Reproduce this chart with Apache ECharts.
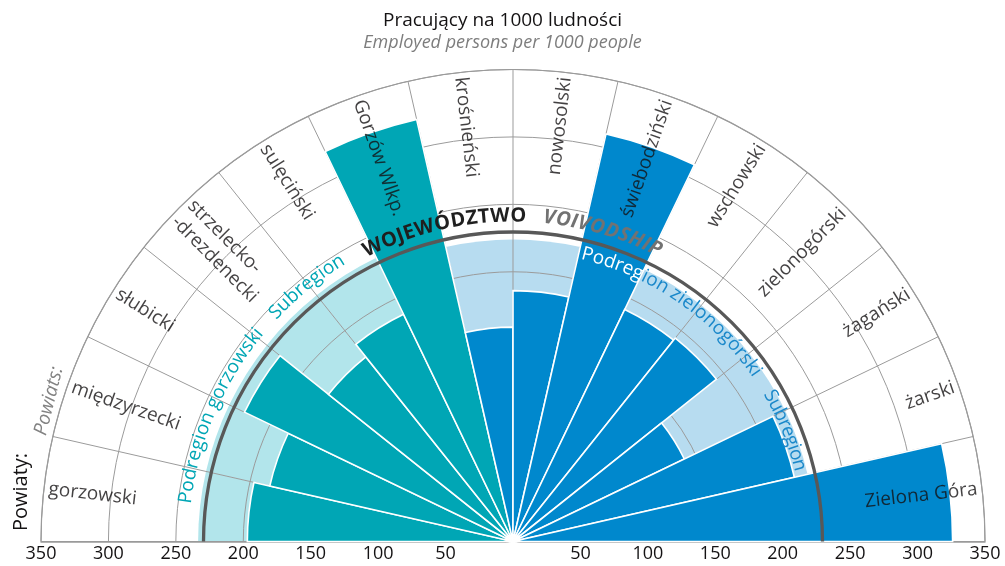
<!DOCTYPE html>
<html><head><meta charset="utf-8">
<script src="https://cdn.jsdelivr.net/npm/echarts@6/dist/echarts.min.js"></script>
<style>html,body{margin:0;padding:0;background:#fff}#c{width:1005px;height:566px}</style>
</head><body><div id="c"></div>
<script>
// ---- data ----
const categories = ['gorzowski','międzyrzecki','słubicki','strzelecko-\n-drezdenecki','sulęciński','Gorzów Wlkp.',
  'krośnieński','nowosolski','świebodziński','wschowski','zielonogórski','żagański','żarski','Zielona Góra'];
const subregionOf = ['gorzowski','gorzowski','gorzowski','gorzowski','gorzowski','gorzowski',
  'zielonogorski','zielonogorski','zielonogorski','zielonogorski','zielonogorski','zielonogorski','zielonogorski','zielonogorski'];
const employed = [197, 185, 221, 175, 187, 321, 159, 186, 310, 191, 193, 141, 214, 326];
const subregionNames = ['gorzowski', 'zielonogorski'];
const subregionValues = [233.5, 224];
const voivodshipValue = 229.5;
const radiusMin = 0, radiusMax = 350, radiusInterval = 50;

// ---- styles ----
const FONT = '"Open Sans", "Noto Sans", sans-serif';
const darkColor = {gorzowski: '#00A6B5', zielonogorski: '#0088CD'};
const lightColor = {gorzowski: '#B2E5EB', zielonogorski: '#B7DCF0'};
const textColor = {gorzowski: '#00A6B5', zielonogorski: '#1A88CA'};
const INK = '#141213';
const CX = 513, CY = 541.5, R = 472;
const N = categories.length;
const sectorDeg = 180 / N;

const subVal = name => subregionValues[subregionNames.indexOf(name)];

const arcTexts = [
  {text: 'Podregion gorzowski', start: 173.4, end: 140.2, r: 244.5, size: 19, weight: 'normal', style: 'normal', color: () => textColor.gorzowski},
  {text: 'Subregion', start: 136.9, end: 121.0, r: 244.5, size: 19, weight: 'normal', style: 'normal', color: () => textColor.gorzowski},
  {text: 'WOJEWÓDZTWO', start: 117.3, end: 87.6, r: 241.5, size: 20, weight: 'bold', style: 'normal', color: () => '#1f1f1f'},
  {text: 'VOIVODSHIP', start: 84.7, end: 63.0, r: 241.5, size: 20, weight: 'bold', style: 'italic', color: () => '#727272'},
  {text: 'Podregion zielonogórski', start: 76.6, end: 34.3, r: 219.5, size: 19, weight: 'normal', style: 'normal', color: null},
  {text: 'Subregion', start: 30.4, end: 13.9, r: 219.5, size: 19, weight: 'normal', style: 'normal', color: null}
];

const measureCtx = document.createElement('canvas').getContext('2d');

function renderOverlay(params, api) {
  const cs = params.coordSys;
  const cx = cs.cx, cy = cs.cy;
  const rpx = v => { const p = api.coord([v, 0]); return Math.hypot(p[0] - cx, p[1] - cy); };
  const children = [];
  children.push({
    type: 'arc',
    shape: {cx: cx, cy: cy, r: rpx(voivodshipValue), startAngle: Math.PI, endAngle: 2 * Math.PI, clockwise: true},
    style: {stroke: '#585858', lineWidth: 3.3, fill: null}
  });
  arcTexts.forEach(t => {
    const fontStr = t.style + ' ' + t.weight + ' ' + t.size + 'px ' + FONT;
    measureCtx.font = fontStr;
    const chars = Array.from(t.text);
    const widths = chars.map(ch => measureCtx.measureText(ch).width);
    const total = widths.reduce((a, b) => a + b, 0);
    const Rp = rpx(t.r);
    let acc = 0;
    chars.forEach((ch, k) => {
      const mid = acc + widths[k] / 2; acc += widths[k];
      const phi = t.start - (t.start - t.end) * mid / total;
      const rad = phi * Math.PI / 180;
      let fill;
      if (t.color) fill = t.color(phi);
      else {
        const i = Math.min(N - 1, Math.max(0, Math.floor((180 - phi) / sectorDeg)));
        fill = employed[i] > t.r + 4 ? '#ffffff' : textColor[subregionOf[i]];
      }
      children.push({
        type: 'text',
        x: cx + Rp * Math.cos(rad), y: cy - Rp * Math.sin(rad),
        rotation: (phi - 90) * Math.PI / 180,
        style: {text: ch, fill: fill, fontSize: t.size, fontWeight: t.weight, fontStyle: t.style,
                fontFamily: FONT, align: 'center', verticalAlign: 'middle'}
      });
    });
  });
  return {type: 'group', children: children};
}

const labelRadius = 346.5;
const labelData = categories.map((name, i) => {
  const theta = 180 - (i + 0.5) * sectorDeg;
  const left = theta > 90;
  return {
    value: [labelRadius, i],
    label: {rotate: left ? theta - 180 : theta, align: left ? 'left' : 'right'}
  };
});

const gridLine = {show: true, lineStyle: {color: '#9b9b9b', width: 1}};

const option = {
  animation: false,
  title: {
    text: 'Pracujący na 1000 ludności',
    subtext: 'Employed persons per 1000 people',
    left: 'center', top: 6, itemGap: 4,
    textStyle: {fontFamily: FONT, fontSize: 19, fontWeight: 'normal', color: INK},
    subtextStyle: {fontFamily: FONT, fontSize: 18, fontStyle: 'italic', color: '#7d7d7d'}
  },
  polar: [
    {center: [CX, CY], radius: R},
    {center: [CX, CY], radius: R}
  ],
  angleAxis: [
    {polarIndex: 0, type: 'category', data: categories, startAngle: 180, endAngle: 0, z: 2,
     axisLine: {show: true, lineStyle: {color: '#9b9b9b', width: 1.2}},
     axisTick: {show: false}, axisLabel: {show: false}, splitLine: gridLine},
    {polarIndex: 1, type: 'value', startAngle: 0, endAngle: -180, show: false}
  ],
  radiusAxis: [
    {polarIndex: 0, type: 'value', min: radiusMin, max: radiusMax, interval: radiusInterval, z: 2,
     axisLine: {show: true, lineStyle: {color: '#9b9b9b', width: 1.5}},
     axisTick: {show: false},
     axisLabel: {showMinLabel: false, margin: 3, fontFamily: FONT, fontSize: 18, fontWeight: 500, color: INK},
     splitLine: gridLine},
    {polarIndex: 1, type: 'value', min: radiusMin, max: radiusMax, interval: radiusInterval, z: 2,
     axisLine: {show: true, lineStyle: {color: '#9b9b9b', width: 1.5}},
     axisTick: {show: false},
     axisLabel: {showMinLabel: false, margin: -3, verticalAlign: 'top', fontFamily: FONT, fontSize: 18, fontWeight: 500, color: INK},
     splitLine: {show: false}}
  ],
  series: [
    {
      type: 'bar', coordinateSystem: 'polar', polarIndex: 0, z: 1,
      barCategoryGap: '0%', barGap: '-100%', silent: true,
      data: categories.map((c, i) => ({value: subVal(subregionOf[i]), itemStyle: {color: lightColor[subregionOf[i]]}}))
    },
    {
      type: 'bar', coordinateSystem: 'polar', polarIndex: 0, z: 3,
      barCategoryGap: '0%', barGap: '-100%',
      data: employed.map((v, i) => ({value: v, itemStyle: {color: darkColor[subregionOf[i]], borderColor: '#ffffff', borderWidth: 1.6}}))
    },
    {
      type: 'custom', coordinateSystem: 'polar', polarIndex: 0, z: 4,
      data: [[0, 0]], renderItem: renderOverlay, silent: true
    },
    {
      type: 'scatter', coordinateSystem: 'polar', polarIndex: 0, z: 5,
      symbolSize: 0, silent: true,
      label: {show: true, position: 'inside', formatter: p => categories[p.data.value[1]],
              fontFamily: FONT, fontSize: 19, fontWeight: 500, color: INK, verticalAlign: 'middle', lineHeight: 23},
      data: labelData
    }
  ],
  graphic: [
    {type: 'text', x: 21, y: 492, rotation: Math.PI / 2,
     style: {text: 'Powiaty:', fontFamily: FONT, fontSize: 20, fontWeight: 500, fill: INK, align: 'center', verticalAlign: 'middle'}},
    {type: 'text', x: 49, y: 401, rotation: 76 * Math.PI / 180,
     style: {text: 'Powiats:', fontFamily: FONT, fontSize: 19, fontStyle: 'italic', fill: '#828282', align: 'center', verticalAlign: 'middle'}}
  ]
};

const chart = echarts.init(document.getElementById('c'), null, {renderer: 'canvas'});
chart.setOption(option);
</script>
</body></html>
